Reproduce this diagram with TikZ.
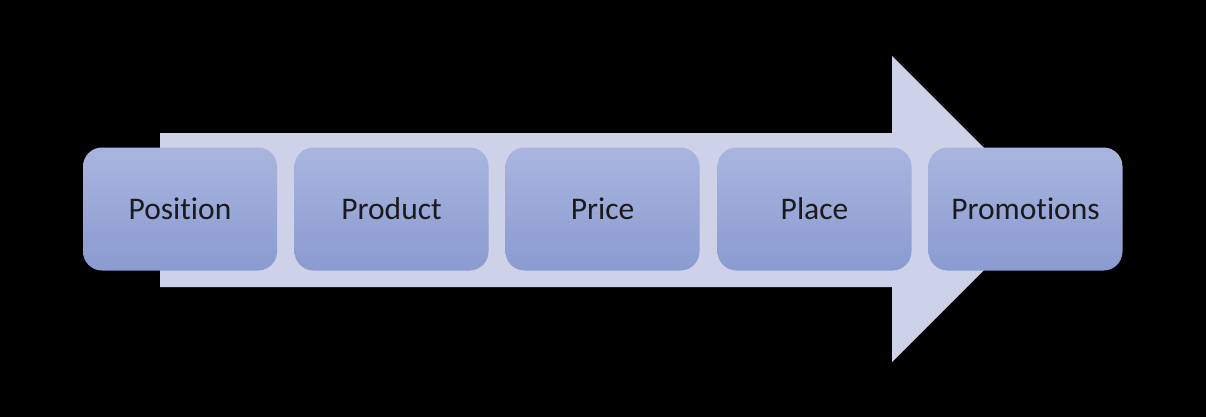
\documentclass[tikz,border=0pt]{standalone}
\usepackage{fontspec}
\setmainfont{Carlito}[Ligatures=NoCommon]
\definecolor{bg}{HTML}{000000}
\definecolor{arrowfill}{HTML}{CDD2E8}
\definecolor{boxtop}{HTML}{A9B5DE}
\definecolor{boxbot}{HTML}{8A9BD1}
\definecolor{txt}{HTML}{1A1A1A}
\begin{document}
\begin{tikzpicture}[x=1pt,y=-1pt,
  stagebox/.style={rectangle, rounded corners=19pt, minimum width=194pt, minimum height=123pt,
    top color=boxtop, bottom color=boxbot, draw=none, text=txt,
    font=\fontsize{31.5}{36}\selectfont, inner sep=0pt}]
\fill[bg] (0,0) rectangle (1206,417);
\useasboundingbox (0,0) rectangle (1206,417);
% big arrow
\fill[arrowfill] (160,133) -- (892,133) -- (892,56) -- (1045,209) -- (892,362) -- (892,287) -- (160,287) -- cycle;
% stages
\node[stagebox] (s1) at (180,209) {Position};
\node[stagebox] (s2) at (391.5,209) {Product};
\node[stagebox] (s3) at (602.5,209) {Price};
\node[stagebox] (s4) at (814.5,209) {Place};
\node[stagebox] (s5) at (1025.5,209) {Promotions};
\end{tikzpicture}
\end{document}
